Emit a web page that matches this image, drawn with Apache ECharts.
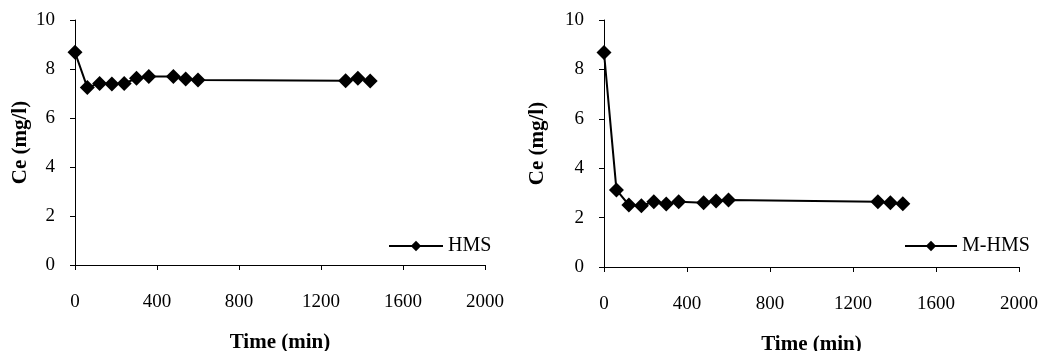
<!DOCTYPE html>
<html>
<head>
<meta charset="utf-8">
<script src="https://cdn.jsdelivr.net/npm/echarts@6/dist/echarts.min.js"></script>
<style>
  html, body { margin: 0; padding: 0; background: #fff; }
  #chart { width: 1047px; height: 351px; }
</style>
</head>
<body>
<div id="chart"></div>
<script>
// contact time (min), same for both samples
var times = [0, 60, 120, 180, 240, 300, 360, 480, 540, 600, 1320, 1380, 1440];
// Ce (mg/l)
var hmsValues = [8.68, 7.25, 7.41, 7.39, 7.41, 7.62, 7.69, 7.69, 7.59, 7.55, 7.52, 7.62, 7.51];
var mhmsValues = [8.68, 3.12, 2.51, 2.48, 2.64, 2.55, 2.64, 2.60, 2.67, 2.71, 2.64, 2.60, 2.56];
var xTicks = [0, 400, 800, 1200, 1600, 2000];
var yTicks = [0, 2, 4, 6, 8, 10];

function pairs(vals) {
  return times.map(function (t, i) { return [t, vals[i]]; });
}

var serif = 'Liberation Serif';

function xAxis(idx) {
  return {
    type: 'value', gridIndex: idx, min: xTicks[0], max: xTicks[xTicks.length - 1],
    interval: xTicks[1] - xTicks[0],
    name: 'Time (min)', nameLocation: 'middle', nameGap: 67,
    nameTextStyle: { fontFamily: serif, fontWeight: 'bold', fontSize: 21, color: '#000' },
    axisLine: { lineStyle: { color: '#000', width: 1 } },
    axisTick: { show: true, inside: false, length: 5, lineStyle: { color: '#000' } },
    axisLabel: {
      fontFamily: serif, fontSize: 19, color: '#000', margin: 28,
      formatter: function (v) { return String(v); }
    },
    splitLine: { show: false }
  };
}

function yAxis(idx, gap) {
  return {
    type: 'value', gridIndex: idx, min: yTicks[0], max: yTicks[yTicks.length - 1],
    interval: yTicks[1] - yTicks[0],
    name: 'Ce (mg/l)', nameLocation: 'middle', nameGap: gap,
    nameTextStyle: { fontFamily: serif, fontWeight: 'bold', fontSize: 21, color: '#000' },
    axisLine: { show: true, lineStyle: { color: '#000', width: 1 } },
    axisTick: { show: true, length: 5, lineStyle: { color: '#000' } },
    axisLabel: { fontFamily: serif, fontSize: 19, color: '#000', margin: 20 },
    splitLine: { show: false }
  };
}

function lineSeries(name, idx, vals) {
  return {
    name: name, type: 'line', xAxisIndex: idx, yAxisIndex: idx,
    data: pairs(vals),
    symbol: 'diamond', symbolSize: 15,
    itemStyle: { color: '#000' },
    lineStyle: { color: '#000', width: 2 },
    animation: false
  };
}

var legendText = { fontFamily: serif, fontSize: 20, color: '#000' };

var chart = echarts.init(document.getElementById('chart'));
chart.setOption({
  backgroundColor: '#fff',
  grid: [
    { left: 75, top: 20, width: 410, height: 245, containLabel: false, outerBoundsMode: 'none' },
    { left: 604, top: 20, width: 415, height: 247, containLabel: false, outerBoundsMode: 'none' }
  ],
  legend: [
    {
      data: ['HMS'], left: 383, top: 231, itemWidth: 54, itemHeight: 13, itemGap: 3,
      textStyle: legendText
    },
    {
      data: ['M-HMS'], left: 899, top: 231, itemWidth: 52, itemHeight: 13, itemGap: 3,
      textStyle: legendText
    }
  ],
  xAxis: [xAxis(0), xAxis(1)],
  yAxis: [yAxis(0, 44), yAxis(1, 56)],
  series: [
    lineSeries('HMS', 0, hmsValues),
    lineSeries('M-HMS', 1, mhmsValues)
  ]
});
</script>
</body>
</html>
